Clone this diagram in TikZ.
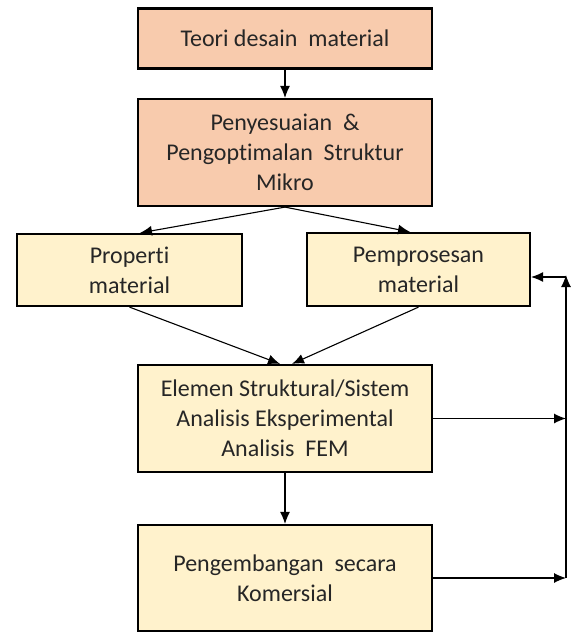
\documentclass[tikz,border=0pt]{standalone}
\usepackage{fontspec}
\setmainfont{Carlito}[Ligatures=NoCommon]
\usetikzlibrary{arrows.meta}
\definecolor{salmon}{HTML}{F8CBAD}
\definecolor{cream}{HTML}{FFF2CC}
\begin{document}
\begin{tikzpicture}[x=1pt, y=-1pt, >={Latex[length=12pt,width=10pt]},
  box/.style={draw, line width=2.2pt, align=center, inner sep=0pt,
    font=\fontsize{24}{30}\selectfont, text=black!85},
  topbox/.style={box, fill=salmon},
  subbox/.style={box, fill=cream},
  conn/.style={->, line width=1.1pt}]
\useasboundingbox (0,0) rectangle (572,632);
% design chain
\node[topbox, minimum width=294pt, minimum height=60pt] (teori) at (285,38.5) {Teori desain \ material};
\node[topbox, minimum width=294pt, minimum height=107pt] (mikro) at (285,152.5)
  {Penyesuaian \ \&\\Pengoptimalan \ Struktur\\Mikro};
% middle row
\node[subbox, minimum width=225pt, minimum height=72pt] (prop) at (129.5,270) {Properti\\material};
\node[subbox, minimum width=223pt, minimum height=73pt] (proses) at (418.5,269.5) {Pemprosesan\\material};
% lower chain
\node[subbox, minimum width=294pt, minimum height=107pt] (elemen) at (285,418.5)
  {Elemen Struktural/Sistem\\Analisis Eksperimental\\Analisis \ FEM};
\node[subbox, minimum width=294pt, minimum height=106pt] (komersial) at (285,578)
  {Pengembangan \ secara\\Komersial};
% feedback line
\coordinate (fbtop) at (566,275);
\coordinate (fbin) at (566,277);
\coordinate (fbmid) at (566,418.5);
\coordinate (fbbot) at (566,578);
\draw[conn] (teori) -- (mikro);
\draw[conn] (mikro.south) -- (prop.north -| 140,0);
\draw[conn] (mikro.south) -- (proses.north -| 410,0);
\draw[conn] (prop.south) -- (elemen.north -| 280,0);
\draw[conn] (proses.south) -- (elemen.north -| 292,0);
\draw[conn] (elemen) -- (komersial);
\draw[conn] (elemen.east) -- (fbmid);
\draw[conn] (komersial.east) -- (fbbot);
\draw[conn] (fbbot) -- (fbtop);
\draw[conn] (fbin) -- (proses.east |- fbin);
\end{tikzpicture}
\end{document}
